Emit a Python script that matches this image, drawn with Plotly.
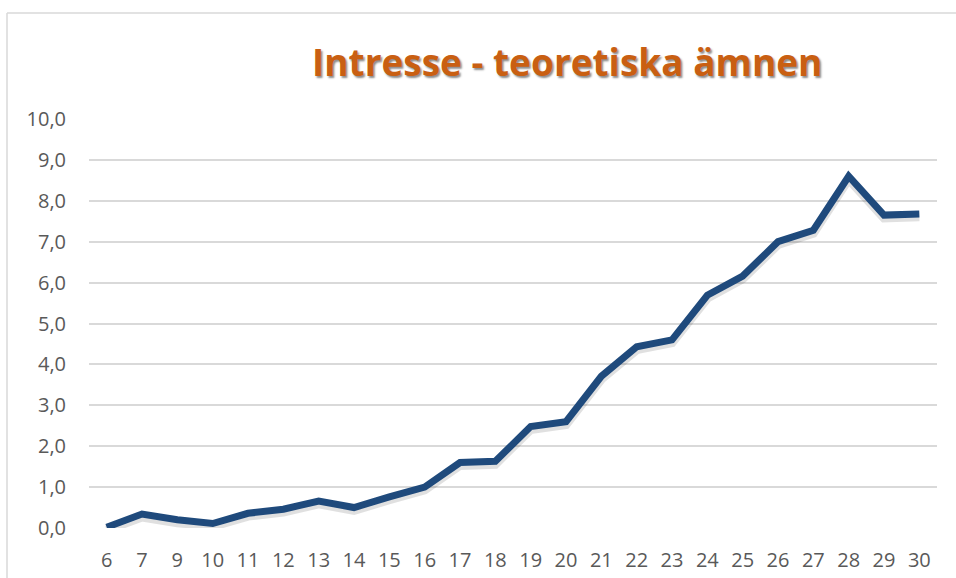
import plotly.graph_objects as go

ages = ["6", "7", "9", "10", "11", "12", "13", "14", "15", "16", "17", "18",
        "19", "20", "21", "22", "23", "24", "25", "26", "27", "28", "29", "30"]
interest = [0.02, 0.34, 0.20, 0.11, 0.36, 0.46, 0.66, 0.50, 0.76, 1.00, 1.60, 1.63,
            2.48, 2.60, 3.71, 4.43, 4.60, 5.69, 6.16, 7.00, 7.28, 8.60, 7.65, 7.68]
y_ticks = [0, 1, 2, 3, 4, 5, 6, 7, 8, 9, 10]
title_text = "Intresse - teoretiska ämnen"

W, H = 956, 578
ml, mr, mt, mb = 89, 19, 119, 50

fig = go.Figure()
# soft drop shadow under the line
fig.add_trace(go.Scatter(
    x=ages, y=[v - 0.07 for v in interest], mode="lines",
    line=dict(color="rgba(0,0,0,0.12)", width=9),
    hoverinfo="skip",
))
fig.add_trace(go.Scatter(
    x=ages, y=interest, mode="lines",
    line=dict(color="#1F4A7C", width=7),
    hoverinfo="x+y",
))

pw = W - ml - mr
ph = H - mt - mb

def px_x(px):
    return (px - ml) / pw

def px_y(py):
    return (H - mb - py) / ph

# outer chart frame (left and top edges visible)
fig.add_shape(type="line", xref="paper", yref="paper",
              x0=px_x(7), x1=px_x(956), y0=px_y(13), y1=px_y(13),
              line=dict(color="#D9D9D9", width=1.5))
fig.add_shape(type="line", xref="paper", yref="paper",
              x0=px_x(7), x1=px_x(7), y0=px_y(13), y1=px_y(578),
              line=dict(color="#D9D9D9", width=1.5))

fig.add_annotation(
    text="<b>" + title_text + "</b>", xref="paper", yref="paper",
    x=px_x(567), y=px_y(62), xanchor="center", yanchor="middle",
    showarrow=False,
    font=dict(family="Open Sans", size=37, color="#C95F12",
              shadow="1.5px 1.5px 2px rgba(0,0,0,0.45)"),
)

fig.update_layout(
    width=W, height=H,
    margin=dict(l=ml, r=mr, t=mt, b=mb, autoexpand=False),
    paper_bgcolor="white", plot_bgcolor="white",
    separators=",.",
    showlegend=False,
    font=dict(family="Open Sans", size=19, color="#595959"),
)
fig.update_xaxes(
    type="category", range=[-0.5, len(ages) - 0.5],
    automargin=False,
    showgrid=False, zeroline=False, showline=False,
    ticks="", ticklabelstandoff=18,
    tickfont=dict(size=20, color="#595959"),
)
fig.update_yaxes(
    range=[0, 10], tickvals=y_ticks, tickformat=".1f",
    automargin=False,
    showgrid=True, gridcolor="#D9D9D9", gridwidth=1.5,
    zeroline=False, showline=False, ticks="",
    ticklabelstandoff=22,
    tickfont=dict(size=20, color="#595959"),
)

fig.write_html("out.html",
               config={"displayModeBar": False},
               post_script="document.body.style.margin='0';document.body.style.overflow='hidden';")
